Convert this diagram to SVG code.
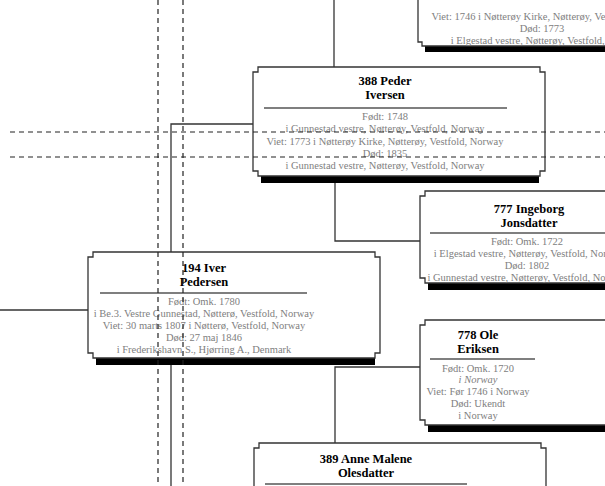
<svg xmlns="http://www.w3.org/2000/svg" width="605" height="486" viewBox="0 0 605 486">
<style>
.box{fill:#fff;stroke:#333;stroke-width:1.3}
.sh{fill:#000}
.con{fill:none;stroke:#333;stroke-width:1.3}
.dash{fill:none;stroke:#222;stroke-width:1.2;stroke-dasharray:5 4}
.nm{font-family:"Liberation Serif",serif;font-size:12.5px;font-weight:bold;fill:#000;text-anchor:middle}
.dt{font-family:"Liberation Serif",serif;font-size:10.5px;fill:#808080;text-anchor:middle}
.rule{stroke:#000;stroke-width:1.2}
</style>
<rect width="605" height="486" fill="#fff"/>
<g id="connectors">
<path class="con" d="M334,0 V67"/>
<path class="con" d="M253,124 H171 V486"/>
<path class="con" d="M335,183 V241 H420"/>
<path class="con" d="M335,443 V367 H420"/>
<path class="con" d="M0,310 H88"/>
</g>
<g id="n0">
<rect class="sh" x="425" y="46" width="180" height="6"/>
<path class="box" d="M418,-5 V42 H422 V46 H610 V-5 Z"/>
<text class="dt" x="550" y="20">Viet: 1746 i Nøtterøy Kirke, Nøtterøy, Vestfold, Norway</text>
<text class="dt" x="542" y="32">Død: 1773</text>
<text class="dt" x="546" y="44">i Elgestad vestre, Nøtterøy, Vestfold, Norway</text>
</g>
<g id="n388">
<rect class="sh" x="261" y="176" width="278" height="7"/>
<path class="box" d="M258,67 H540 V72 H545 V171 H540 V176 H258 V171 H253 V72 H258 Z"/>
<text class="nm" x="385" y="85">388 Peder</text>
<text class="nm" x="385" y="99">Iversen</text>
<line class="rule" x1="264" y1="108" x2="507" y2="108"/>
<text class="dt" x="385" y="120">Født: 1748</text>
<text class="dt" x="385" y="132">i Gunnestad vestre, Nøtterøy, Vestfold, Norway</text>
<text class="dt" x="385" y="145">Viet: 1773 i Nøtterøy Kirke, Nøtterøy, Vestfold, Norway</text>
<text class="dt" x="385" y="157">Død: 1835</text>
<text class="dt" x="385" y="169">i Gunnestad vestre, Nøtterøy, Vestfold, Norway</text>
</g>
<g id="n777">
<rect class="sh" x="428" y="283" width="177" height="7"/>
<path class="box" d="M425,191 H610 V283 H425 V278 H420 V196 H425 Z"/>
<text class="nm" x="529" y="213">777 Ingeborg</text>
<text class="nm" x="529" y="227">Jonsdatter</text>
<line class="rule" x1="430" y1="233" x2="605" y2="233"/>
<text class="dt" x="527" y="245">Født: Omk. 1722</text>
<text class="dt" x="529" y="257">i Elgestad vestre, Nøtterøy, Vestfold, Norway</text>
<text class="dt" x="527" y="269">Død: 1802</text>
<text class="dt" x="527" y="281">i Gunnestad vestre, Nøtterøy, Vestfold, Norway</text>
</g>
<g id="n194">
<rect class="sh" x="96" y="358" width="279" height="7"/>
<path class="box" d="M93,252 H375 V257 H380 V353 H375 V358 H93 V353 H88 V257 H93 Z"/>
<text class="nm" x="204" y="272">194 Iver</text>
<text class="nm" x="204" y="286">Pedersen</text>
<line class="rule" x1="100" y1="293" x2="307" y2="293"/>
<text class="dt" x="204" y="305">Født: Omk. 1780</text>
<text class="dt" x="204" y="317">i Be.3. Vestre Gunnestad, Nøtterø, Vestfold, Norway</text>
<text class="dt" x="204" y="329">Viet: 30 marts 1807 i Nøtterø, Vestfold, Norway</text>
<text class="dt" x="204" y="341">Død: 27 maj 1846</text>
<text class="dt" x="204" y="353">i Frederikshavn S., Hjørring A., Denmark</text>
</g>
<g id="n778">
<rect class="sh" x="428" y="425" width="177" height="7"/>
<path class="box" d="M425,320 H610 V425 H425 V420 H420 V325 H425 Z"/>
<text class="nm" x="478" y="339">778 Ole</text>
<text class="nm" x="478" y="353">Eriksen</text>
<line class="rule" x1="430" y1="359" x2="535" y2="359"/>
<text class="dt" x="478" y="372">Født: Omk. 1720</text>
<text class="dt" x="478" y="383" font-style="italic">i Norway</text>
<text class="dt" x="478" y="395">Viet: Før 1746 i Norway</text>
<text class="dt" x="478" y="407">Død: Ukendt</text>
<text class="dt" x="478" y="419">i Norway</text>
</g>
<g id="n389">
<path class="box" d="M259,443 H541 V448 H546 V495 H254 V448 H259 Z"/>
<text class="nm" x="366" y="463">389 Anne Malene</text>
<text class="nm" x="366" y="477">Olesdatter</text>
<line class="rule" x1="265" y1="484" x2="467" y2="484"/>
</g>
<g id="pagebreaks">
<path class="dash" d="M158,0 V486 M183,0 V486 M10,132 H605 M10,157 H605"/>
</g>
</svg>
